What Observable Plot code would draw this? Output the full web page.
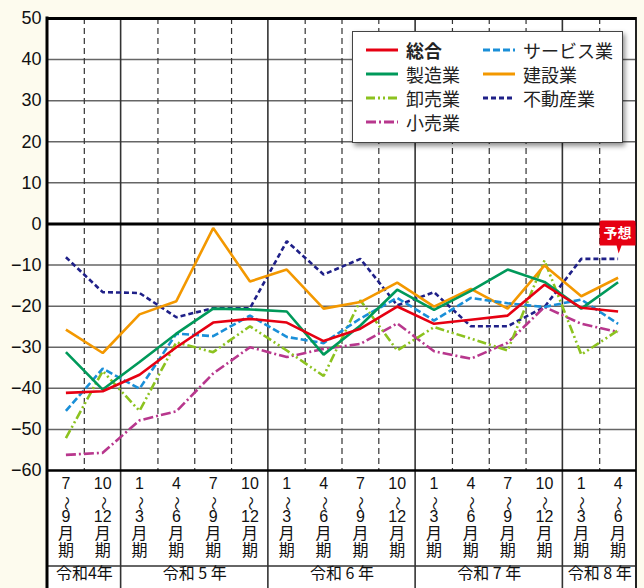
<!DOCTYPE html>
<html><head><meta charset="utf-8">
<script src="https://cdn.jsdelivr.net/npm/d3@7"></script>
<script src="https://cdn.jsdelivr.net/npm/@observablehq/plot@0.6"></script>
<style>
html,body{margin:0;padding:0;background:#fdfbee;}
#wrap{position:relative;width:644px;height:588px;overflow:hidden;}
#legend{position:absolute;left:352px;top:31px;width:269px;height:110px;background:#fff;border:1px solid #444;box-shadow:2px 3px 5px rgba(0,0,0,0.45);font-family:"Noto Sans CJK JP","Noto Sans",sans-serif;font-size:18px;color:#222;}
.li{position:absolute;height:24px;line-height:24px;white-space:nowrap;}
.li svg{position:absolute;left:0;top:8px;}
.li span{position:absolute;left:40px;top:0;}
</style></head><body><div id="wrap"></div>
<script>
// ---- data ----
const startMonth = [7,10,1,4,7,10,1,4,7,10,1,4,7,10,1,4];
const endMonth   = [9,12,3,6,9,12,3,6,9,12,3,6,9,12,3,6];
const eraYears = ["令和4年","令和 5 年","令和 6 年","令和 7 年","令和 8 年"];
const quartersPerYear = [2,4,4,4,2];
const yTicks = [50,40,30,20,10,0,-10,-20,-30,-40,-50,-60];
const forecastLabel = "予想";

const seriesNames = ["総合","製造業","卸売業","小売業","サービス業","建設業","不動産業"];
const sogo      = [-41.1,-40.7,-36.7,-30.0,-24.0,-23.1,-24.0,-28.5,-25.5,-20.1,-24.3,-23.3,-22.3,-14.8,-20.4,-21.3];
const seizo     = [-31.2,-40.3,-33.6,-26.7,-20.6,-20.8,-21.3,-31.8,-24.7,-16.0,-20.9,-16.3,-11.1,-14.1,-20.6,-14.2];
const oroshi    = [-52.1,-35.8,-45.5,-28.8,-31.2,-24.9,-30.8,-37.0,-18.6,-30.8,-25.1,-27.9,-30.8,-8.9,-31.8,-25.9];
const kouri     = [-56.2,-55.7,-47.8,-45.6,-36.4,-30.0,-32.4,-30.4,-29.2,-24.2,-31.0,-32.8,-28.9,-20.2,-24.3,-26.3];
const service   = [-45.5,-35.2,-40.1,-26.7,-27.3,-22.3,-27.5,-29.0,-23.0,-18.0,-23.5,-18.0,-19.3,-20.2,-18.4,-24.3];
const kensetsu  = [-25.7,-31.4,-22.0,-18.8,-1.0,-14.0,-11.1,-20.6,-19.0,-14.3,-20.1,-15.8,-20.6,-10.1,-17.6,-13.1];
const fudousan  = [-8.1,-16.6,-16.8,-22.7,-20.5,-20.5,-4.2,-12.3,-8.5,-19.8,-16.6,-24.9,-24.9,-20.2,-8.5,-8.5];

// ---- styles ----
const seriesValues = {"総合":sogo,"製造業":seizo,"卸売業":oroshi,"小売業":kouri,"サービス業":service,"建設業":kensetsu,"不動産業":fudousan};
const styles = {
  "総合":      {color:"#e60012", dash:null},
  "製造業":    {color:"#00995a", dash:null},
  "卸売業":    {color:"#8cc21f", dash:"9,3,2,3,2,3"},
  "小売業":    {color:"#b8378d", dash:"10,3,2,3"},
  "サービス業":{color:"#1a8fd8", dash:"7,3"},
  "建設業":    {color:"#f39800", dash:null},
  "不動産業":  {color:"#1f2088", dash:"5,3"}
};
const drawOrder = ["不動産業","小売業","卸売業","建設業","サービス業","製造業","総合"];

const n = startMonth.length;
const rows = seriesNames.flatMap(name => seriesValues[name].map((v,i)=>({name, i, v})));
const idx = d3.range(n);

// boundaries
const yearStarts = [];
{ let s = 0; for (const q of quartersPerYear) { yearStarts.push(s); s += q; } }
const yearBounds = yearStarts.slice(1).map(s => s - 0.5);
const dashBounds = d3.range(1, n).map(k => k - 0.5).filter(b => !yearBounds.includes(b));
const yearRows = eraYears.map((label, k) => ({label, xc: yearStarts[k] + (quartersPerYear[k]-1)/2}));

const sans = "'Liberation Sans', Arial, 'Noto Sans CJK JP', sans-serif";
const jp = "'Noto Sans CJK JP', sans-serif";

function background(index, scales, values, dims) {
  const {width, height, marginLeft, marginRight, marginTop} = dims;
  const g = d3.create("svg:g");
  g.append("rect").attr("x", marginLeft).attr("y", marginTop)
    .attr("width", width - marginLeft - marginRight).attr("height", height - marginTop).attr("fill", "#fff");
  return g.node();
}
function frameLines(index, scales, values, dims) {
  const {width, height, marginLeft, marginRight, marginTop} = dims;
  const g = d3.create("svg:g");
  const x0 = marginLeft, x1 = width - marginRight;
  for (const b of yearBounds) {
    g.append("line").attr("x1", scales.x(b)).attr("x2", scales.x(b)).attr("y1", marginTop).attr("y2", height)
      .attr("stroke", "#333").attr("stroke-width", 1.6);
  }
  g.append("line").attr("x1", x0).attr("x2", x1).attr("y1", height - 22).attr("y2", height - 22)
    .attr("stroke", "#333").attr("stroke-width", 1.6);
  g.append("line").attr("x1", x0).attr("x2", x0).attr("y1", marginTop - 1.5).attr("y2", height)
    .attr("stroke", "#000").attr("stroke-width", 3);
  g.append("line").attr("x1", x1).attr("x2", x1).attr("y1", marginTop - 1).attr("y2", height)
    .attr("stroke", "#222").attr("stroke-width", 2);
  return g.node();
}
function forecastMarker(index, scales, values, dims) {
  const g = d3.create("svg:g");
  const last = n - 1;
  const top = d3.max(seriesNames, s => seriesValues[s][last]);
  const cx = scales.x(last), tip = scales.y(top) - 5;
  const w = 36, h = 25, bottom = tip - 8;
  g.append("path")
    .attr("d", `M${cx-w/2+2},${bottom-h} h${w-4} q2,0 2,2 v${h-2} h${-(w/2-4)} l-3,8 l-2,-8 h${-(w/2-1)} v${-(h-2)} q0,-2 2,-2 z`)
    .attr("fill", "#e60012");
  g.append("text").attr("x", cx).attr("y", bottom - h/2).attr("text-anchor", "middle").attr("dy", "0.36em")
    .attr("fill", "#fff").attr("font-family", jp).attr("font-weight", "bold").attr("font-size", 14).text(forecastLabel);
  return g.node();
}

const chart = Plot.plot({
  width: 644, height: 588,
  marginLeft: 47, marginRight: 8, marginTop: 18, marginBottom: 118,
  style: {background: "transparent", fontFamily: sans, color: "#111", overflow: "visible"},
  x: {type: "linear", domain: [-0.5, n - 0.5]},
  y: {domain: [-60, 50]},
  marks: [
    background,
    Plot.ruleY(yTicks.filter(t => t !== 0 && t !== 50 && t !== -60), {stroke: "#666", strokeWidth: 1.5}),
    Plot.ruleX(dashBounds, {stroke: "#333", strokeWidth: 1.2, strokeDasharray: "6,4"}),
    frameLines,
    Plot.ruleY([0], {stroke: "#000", strokeWidth: 3}),
    Plot.ruleY([50], {stroke: "#000", strokeWidth: 3}),
    Plot.ruleY([-60], {stroke: "#000", strokeWidth: 2.5}),
    ...drawOrder.map(name => Plot.line(rows.filter(d => d.name === name), {
      x: "i", y: "v", stroke: styles[name].color, strokeWidth: 2.6,
      strokeDasharray: styles[name].dash ?? undefined, strokeLinejoin: "miter", strokeLinecap: "butt"
    })),
    Plot.axisY({ticks: yTicks, tickSize: 0, tickPadding: 6, fontSize: 18, label: null, fill: "#111"}),
    Plot.axisX({ticks: idx, tickFormat: i => `${startMonth[i]}\n\u00a0\n${endMonth[i]}\n月\n期`,
      tickSize: 0, tickPadding: 6, fontSize: 16, lineHeight: 1.06, label: null, fill: "#111"}),
    Plot.text(idx, {x: d => d, text: () => "〜", frameAnchor: "bottom", dx: -4, dy: 33, rotate: 90,
      fontSize: 14, fontFamily: jp, fill: "#111"}),
    Plot.text(yearRows, {x: "xc", text: "label", frameAnchor: "bottom", dy: 108, fontSize: 16, fontFamily: jp, fill: "#111"}),
    forecastMarker
  ]
});

const wrap = document.getElementById("wrap");
wrap.appendChild(chart);

// legend
const legend = document.createElement("div");
legend.id = "legend";
const layout = [
  ["総合", 13, 6], ["製造業", 13, 30], ["卸売業", 13, 54], ["小売業", 13, 78],
  ["サービス業", 130, 6], ["建設業", 130, 30], ["不動産業", 130, 54]
];
for (const [name, lx, ly] of layout) {
  const item = document.createElement("div");
  item.className = "li";
  item.style.left = lx + "px"; item.style.top = ly + "px";
  const st = styles[name];
  item.innerHTML = `<svg width="34" height="8"><line x1="0" x2="32" y1="4" y2="4" stroke="${st.color}" stroke-width="3" ${st.dash ? `stroke-dasharray="${st.dash}"` : ""}/></svg><span style="${name === "総合" ? "font-weight:bold;" : ""}">${name}</span>`;
  legend.appendChild(item);
}
wrap.appendChild(legend);
</script></body></html>
